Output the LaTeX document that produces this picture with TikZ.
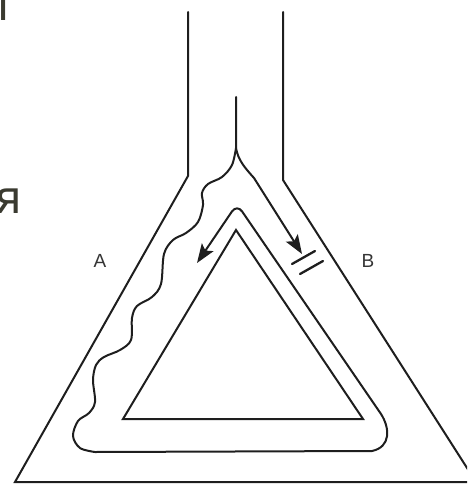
\documentclass[tikz,border=0pt]{standalone}
\usepackage{fontspec}
\setmainfont{Liberation Sans}
\newfontfamily\cyrfont{Noto Sans}
\usetikzlibrary{arrows.meta}
\definecolor{ink}{HTML}{1E1E1E}
\definecolor{txt}{HTML}{3A3A30}
\begin{document}
\begin{tikzpicture}[x=1pt,y=-1pt,
  ln/.style={line width=2pt, draw=ink, line join=round, line cap=round},
  tipped/.style={-{Stealth[length=19pt,width=14pt,inset=4pt]}},
  lab/.style={font=\fontsize{19}{19}\selectfont, text=ink!90, inner sep=0pt},
  cyr/.style={font=\cyrfont\fontsize{46}{46}\selectfont, text=txt, inner sep=0pt}]
\useasboundingbox (0,0) rectangle (467,484);
\clip (0,0) rectangle (467,484);
% cut-off letters at the left edge
\node[cyr, anchor=base east] (l1) at (10,21) {л};
\node[cyr, anchor=base east] (l2) at (22,213) {я};
% outer vessel
\draw[ln, line join=miter] (188,12) -- (188,176) -- (15,482) -- (476,482) -- (283,180) -- (283,12);
% inner triangle
\draw[ln, line join=miter] (236,230) -- (123,419) -- (363,419) -- cycle;
% stem, wavy branch and loop
\draw[ln, tipped] (236,97) -- (236,148)
  -- plot[smooth, tension=0.55] coordinates {(236,148) (232,165) (222,177) (208,184) (202,193) (203,205) (198,222) (186,233) (173,240) (164,254) (161,284) (152,297) (137,306) (132,318) (131,340) (120,350) (104,357) (96,365) (93,380) (95,402) (89,413) (78,421) (73,436) (80,448) (95,452)}
  -- (372,451) .. controls (391,447) and (390,428) .. (381,414)
  [rounded corners=9pt] -- (237,204) [sharp corners] -- (197,263);
% right branch
\draw[ln, tipped] (236,148) .. controls (238,160) and (245,168) .. (254,178) -- (302,254);
% barrier bars
\draw[ln, line width=2.3pt] (292,264) -- (315,251);
\draw[ln, line width=2.3pt] (300,274) -- (323,261);
% labels
\node[lab] (A) at (100,261) {A};
\node[lab] (B) at (368,261) {B};
\end{tikzpicture}
\end{document}
